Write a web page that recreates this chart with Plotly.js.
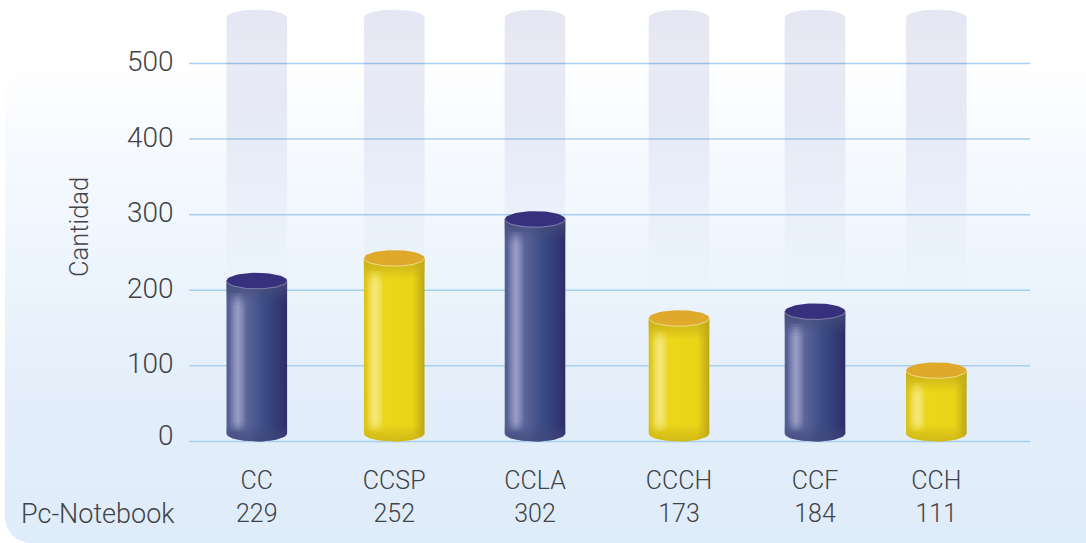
<!DOCTYPE html>
<html><head><meta charset="utf-8">
<script src="https://cdn.plot.ly/plotly-3.0.1.min.js"></script>
<style>
html,body{margin:0;padding:0;background:#fff;overflow:hidden}
#wrap{position:relative;width:1086px;height:543px;overflow:hidden}
#bg{position:absolute;left:5px;top:70px;width:1110px;height:473px;border-radius:26px;
background:linear-gradient(180deg,#fefeff 0%,#f2f8fe 27%,#e3eefa 70%,#dfecf9 100%)}
#chart{position:absolute;left:0;top:0;width:1086px;height:543px}
</style></head><body>
<div id="wrap"><div id="bg"></div><div id="chart"></div></div>
<script>
const categories = ['CC','CCSP','CCLA','CCCH','CCF','CCH'];
const pcNotebook = [229,252,302,173,184,111];
const drawnHeights = [212.5,242.5,294,163,172,94];
const categoryCentres = [256.8,394.2,535,679,815,936.3];
const groups = ['navy','yellow','navy','yellow','navy','yellow'];
const yTicks = [0,100,200,300,400,500];
const yLabelShift = [6,2,2,2,2,2];
const ghostTop = 560.5;
const ghostFadeEnd = 190;

const halfW = 30.3, capH = 10.6;
const fontFam = 'Roboto, "Noto Sans", sans-serif';
const textCol = '#434347';
const textWeight = 300;
const palette = {
 navy:{cap:'#37307c',rim:'rgba(225,225,240,0.4)',
  body:[[0,'#555f95'],[0.35,'#5a6498'],[0.6,'#3d4d85'],[0.72,'#35467e'],[0.88,'#333672'],[1,'#2d2c68']],
  hi:'rgba(190,192,222,',top:'rgba(70,76,122,',bot:'rgba(66,72,124,',hiA:0.18},
 yellow:{cap:'#dfa92b',rim:'rgba(250,235,180,0.7)',
  body:[[0,'#d9c41c'],[0.12,'#e6d21c'],[0.4,'#ecd619'],[0.8,'#ebd519'],[0.92,'#cfba18'],[1,'#b9a616']],
  hi:'rgba(250,240,160,',top:'rgba(196,172,24,',bot:'rgba(200,176,22,',hiA:0.22}
};

function arc(cx,cy,from,to,n,hw,hh){
  const xs=[],ys=[];
  for(let i=0;i<=n;i++){const t=from+(to-from)*i/n;xs.push(cx+hw*Math.cos(t));ys.push(cy+hh*Math.sin(t));}
  return [xs,ys];
}
function poly(xs,ys,grad,layerName){
  return {type:'scatter',mode:'lines',x:xs,y:ys,fill:'toself',line:{width:0},fillgradient:grad,
    hoverinfo:'skip',showlegend:false,name:layerName};
}
const traces=[];
// gridlines
yTicks.forEach(v=>{
  traces.push({type:'scatter',mode:'lines',x:[189,1030],y:[v,v],line:{width:1.5,color:'#a8cff0'},
    hoverinfo:'skip',showlegend:false,name:'grid '+v});
});
// ghost columns
categoryCentres.forEach((c,i)=>{
  const [ax,ay]=arc(c,ghostTop,Math.PI,0,40,halfW,capH);
  const xs=ax.concat([c+halfW,c-halfW,c-halfW]), ys=ay.concat([ghostFadeEnd,ghostFadeEnd,ghostTop]);
  traces.push(poly(xs,ys,{type:'vertical',start:ghostFadeEnd,stop:ghostTop+capH,colorscale:[
    [0,'rgba(40,60,160,0)'],[0.3,'rgba(40,60,160,0.035)'],[0.6,'rgba(40,60,160,0.09)'],[1,'rgba(40,60,160,0.125)']]},categories[i]+' ghost'));
});
// cylinders
categoryCentres.forEach((c,i)=>{
  const p=palette[groups[i]], h=drawnHeights[i], bc=capH;
  const [bx,by]=arc(c,bc,Math.PI,2*Math.PI,40,halfW,capH);
  const xs=bx.concat([c+halfW,c-halfW,c-halfW]), ys=by.concat([h,h,bc]);
  traces.push(poly(xs,ys,{type:'horizontal',colorscale:p.body},categories[i]));
  // top and bottom shading
  const tb=Math.max(h-capH-18,bc);
  traces.push(poly(xs,ys,{type:'vertical',start:tb,stop:h,colorscale:[
    [0,p.top+'0)'],[0.6,p.top+'0.6)'],[1,p.top+'0.85)']]},categories[i]+' top shade'));
  const bt=bc+12;
  traces.push(poly(bx.concat([c+halfW,c-halfW,c-halfW]),by.concat([bt,bt,bc]),{type:'vertical',start:0,stop:bt,colorscale:[
    [0,p.bot+'0.75)'],[0.5,p.bot+'0.4)'],[1,p.bot+'0)']]},categories[i]+' bottom shade'));
  // highlight strip: stacked layers, so its ends fade softly
  const hl=c-halfW+2.5, hr=c-halfW+20;
  [0,1,2,3,4].forEach(k=>{
    const hb=bc+3+k*3, ht=h-capH-6-k*4;
    traces.push(poly([hl,hr,hr,hl,hl],[hb,hb,ht,ht,hb],{type:'horizontal',colorscale:[
      [0,p.hi+'0)'],[0.5,p.hi+p.hiA+')'],[1,p.hi+'0)']]},categories[i]+' highlight '+k));
  });
  // cap
  const [ex,ey]=arc(c,h,0,2*Math.PI,60,halfW,capH);
  traces.push({type:'scatter',mode:'lines',x:ex,y:ey,fill:'toself',fillcolor:p.cap,line:{width:0},hoverinfo:'skip',showlegend:false,name:categories[i]+' cap'});
  const [rx,ry]=arc(c,h,Math.PI,2*Math.PI,30,halfW,capH);
  traces.push({type:'scatter',mode:'lines',x:rx,y:ry,line:{width:1,color:p.rim},hoverinfo:'skip',showlegend:false,name:categories[i]+' rim'});
});

const xTickText=categories.map((n,i)=>n+'<br>'+pcNotebook[i]);
const yAnn=yTicks.map((v,i)=>({xref:'paper',yref:'y',x:(176-189)/841,y:v,yshift:yLabelShift[i],xanchor:'right',yanchor:'middle',
  text:String(v),showarrow:false,font:{family:fontFam,size:28,color:textCol,weight:textWeight}}));
const layout={
  width:1086,height:543,margin:{l:189,r:56,t:0,b:83},
  paper_bgcolor:'rgba(0,0,0,0)',plot_bgcolor:'rgba(0,0,0,0)',
  font:{family:fontFam,color:textCol},showlegend:false,
  xaxis:{range:[189,1030],tickmode:'array',tickvals:categoryCentres,ticktext:xTickText,
    showgrid:false,zeroline:false,showline:false,ticks:'',ticklen:0,ticklabelstandoff:3,
    tickfont:{family:fontFam,size:25,color:textCol,weight:textWeight},fixedrange:true},
  yaxis:{range:[-24.5,583.9],tickmode:'array',tickvals:yTicks,showgrid:false,showticklabels:false,
    zeroline:false,showline:false,ticks:'',fixedrange:true},
  annotations:yAnn.concat([
    {xref:'paper',yref:'paper',x:(177-189)/841,y:-(514-460)/460,xanchor:'right',yanchor:'middle',
     text:'Pc-Notebook',showarrow:false,font:{family:fontFam,size:27,color:textCol,weight:textWeight}},
    {xref:'paper',yref:'paper',x:(79-189)/841,y:(460-227)/460,xanchor:'center',yanchor:'middle',textangle:-90,
     text:'Cantidad',showarrow:false,font:{family:fontFam,size:25.5,color:textCol,weight:textWeight}}])
};
Plotly.newPlot('chart',traces,layout,{displayModeBar:false,staticPlot:true});
</script>
</body></html>
